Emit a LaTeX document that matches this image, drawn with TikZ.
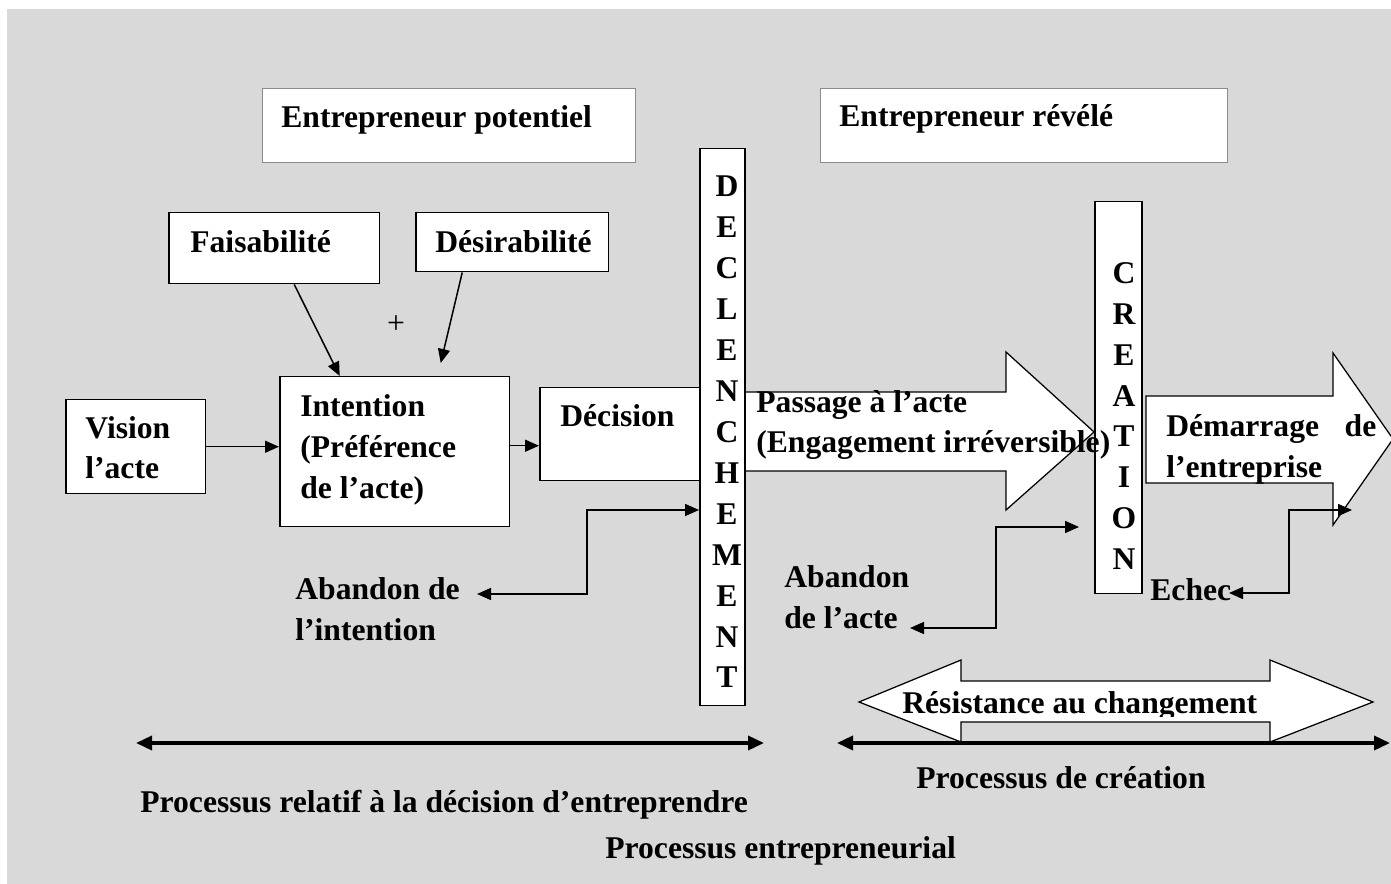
\documentclass[tikz,border=0pt]{standalone}
\usepackage{fontspec}
\setmainfont{Liberation Serif}
\usetikzlibrary{calc,arrows.meta}
\definecolor{bggray}{HTML}{D9D9D9}

\begin{document}
\begin{tikzpicture}[x=0.02cm, y=-0.02cm,
		box/.style={draw, line width=0.3mm, fill=white, anchor=north west, inner sep=0pt},
		topbox/.style={draw=black!45, line width=0.2mm, fill=white, anchor=north west, inner sep=0pt},
		lbl/.style={anchor=base west, inner sep=0pt, align=left, font=\bfseries\fontsize{18}{23.3}\selectfont},
		letters/.style={inner sep=0pt, align=center, font=\bfseries\fontsize{18}{23.3}\selectfont},
		blockarrow/.style={draw, line width=0.25mm, fill=white},
		conn/.style={line width=0.3mm, -{Triangle[length=0.28cm, width=0.24cm]}},
		dconn/.style={line width=0.3mm, {Triangle[length=0.28cm, width=0.24cm]}-{Triangle[length=0.28cm, width=0.24cm]}},
		axis/.style={line width=0.7mm, {Triangle[length=0.32cm, width=0.28cm]}-{Triangle[length=0.32cm, width=0.28cm]}}]
		%%%%% START %%%%%
		
		\useasboundingbox (0, 0) rectangle (1391, 884);
		\fill[bggray] (7, 9) rectangle (1391, 884);
		
		\node[topbox, minimum width=7.46cm, minimum height=1.48cm] (potent) at (262, 88) {};
		\node[topbox, minimum width=8.14cm, minimum height=1.48cm] (reveal) at (820, 88) {};
		
		\node[box, minimum width=4.22cm, minimum height=1.42cm] (faisab) at (168, 212) {};
		\node[box, minimum width=3.86cm, minimum height=1.18cm] (desir) at (415, 212) {};
		\node[box, minimum width=2.8cm, minimum height=1.88cm] (vision) at (65, 399) {};
		\node[box, minimum width=4.6cm, minimum height=3cm] (intent) at (279, 376) {};
		\node[box, minimum width=3.2cm, minimum height=1.86cm] (decis) at (539, 387) {};
		
		% fleches pleines
		\draw[blockarrow] (744, 392) -- (1006, 392) -- (1006, 352) -- (1094, 432) -- (1006, 510) -- (1006, 471) -- (744, 471) -- cycle;
		\draw[blockarrow] (1146, 396) -- (1333, 396) -- (1333, 353) -- (1393, 439) -- (1333, 525) -- (1333, 483) -- (1146, 483) -- cycle;
		\draw[blockarrow] (859, 702) -- (961, 660) -- (961, 681) -- (1270, 681) -- (1270, 660) -- (1373, 702) -- (1270, 742) -- (1270, 722) -- (961, 722) -- (961, 742) -- cycle;
		
		\node[box, minimum width=0.9cm, minimum height=11.14cm] (decl) at (699, 148) {};
		\node[box, minimum width=0.94cm, minimum height=7.84cm] (creat) at (1094, 201) {};
		
		% connecteurs
		\draw[conn] ($(faisab.south)+(20, 0)$) -- ($(intent.north)+(-55, 0)$);
		\draw[conn] ($(desir.south)+(-50, 0)$) -- ($(intent.north)+(46, -13)$);
		\draw[conn] (vision.east) -- (vision.east -| intent.west);
		\coordinate (idmid) at ($(intent.east)+(0, -6)$);
		\draw[conn] (idmid) -- (idmid -| decis.west);
		
		\coordinate (aitip) at (477, 594);
		\coordinate (aiturn) at (587, 510);
		\draw[dconn] (aitip) -| (aiturn) -- (aiturn -| decl.west);
		
		\coordinate (aatip) at (910, 628);
		\coordinate (aaturn) at (996, 527);
		\coordinate (aaend) at (1079, 527);
		\draw[dconn] (aatip) -| (aaturn) -- (aaend);
		
		\coordinate (ectip) at (1229, 593);
		\coordinate (ecturn) at (1289, 510);
		\coordinate (ecend) at (1352, 510);
		\draw[dconn] (ectip) -| (ecturn) -- (ecend);
		
		\coordinate (axal) at (136, 743);
		\coordinate (axar) at (764, 743);
		\coordinate (axbl) at (837, 743);
		\coordinate (axbr) at (1390, 743);
		\draw[axis] (axal) -- (axar);
		\draw[axis] (axbl) -- (axbr);
		
		% textes (base = derniere ligne)
		\node[lbl] (potenttxt) at (281, 128) {Entrepreneur potentiel};
		\node[lbl] (revealtxt) at (839, 127) {Entrepreneur révélé};
		\node[lbl] (faisabtxt) at (190, 253) {Faisabilité};
		\node[lbl] (desirtxt) at (435, 253) {Désirabilité};
		\node[font=\fontsize{18}{22}\selectfont, inner sep=0pt] (plus) at (396, 325) {+};
		\node[lbl] (visiontxt) at (85, 479) {Vision\\l’acte};
		\node[lbl] (intenttxt) at (300, 498) {Intention\\(Préférence\\de l’acte)};
		\node[lbl] (decistxt) at (560, 427) {Décision};
		\node[lbl] (passtxt) at (756, 453) {Passage à l’acte\\(Engagement irréversible)};
		\node[lbl, text width=4.2cm] (demtxt) at (1166, 437) {Démarrage\hfill de\\l’entreprise};
		\node[letters] (decltxt) at (727, 432) {D\\E\\C\\L\\E\\N\\C\\H\\E\\M\\E\\N\\T};
		\node[letters] (creattxt) at (1124, 416) {C\\R\\E\\A\\T\\I\\O\\N};
		\node[lbl] (abinttxt) at (295, 640) {Abandon de\\l’intention};
		\node[lbl] (abactetxt) at (784, 628) {Abandon\\de l’acte};
		\node[lbl] (echectxt) at (1150, 600) {Echec};
		\begin{scope}
			\clip (880, 682) rectangle (1268, 716);
			\node[lbl] (resisttxt) at (902, 713) {Résistance au changement};
		\end{scope}
		\node[lbl] (procatxt) at (140, 812) {Processus relatif à la décision d’entreprendre};
		\node[lbl] (procbtxt) at (605, 858) {Processus entrepreneurial};
		\node[lbl] (procctxt) at (916, 788) {Processus de création};
		
		%%%%% END %%%%%
\end{tikzpicture}
\end{document}
